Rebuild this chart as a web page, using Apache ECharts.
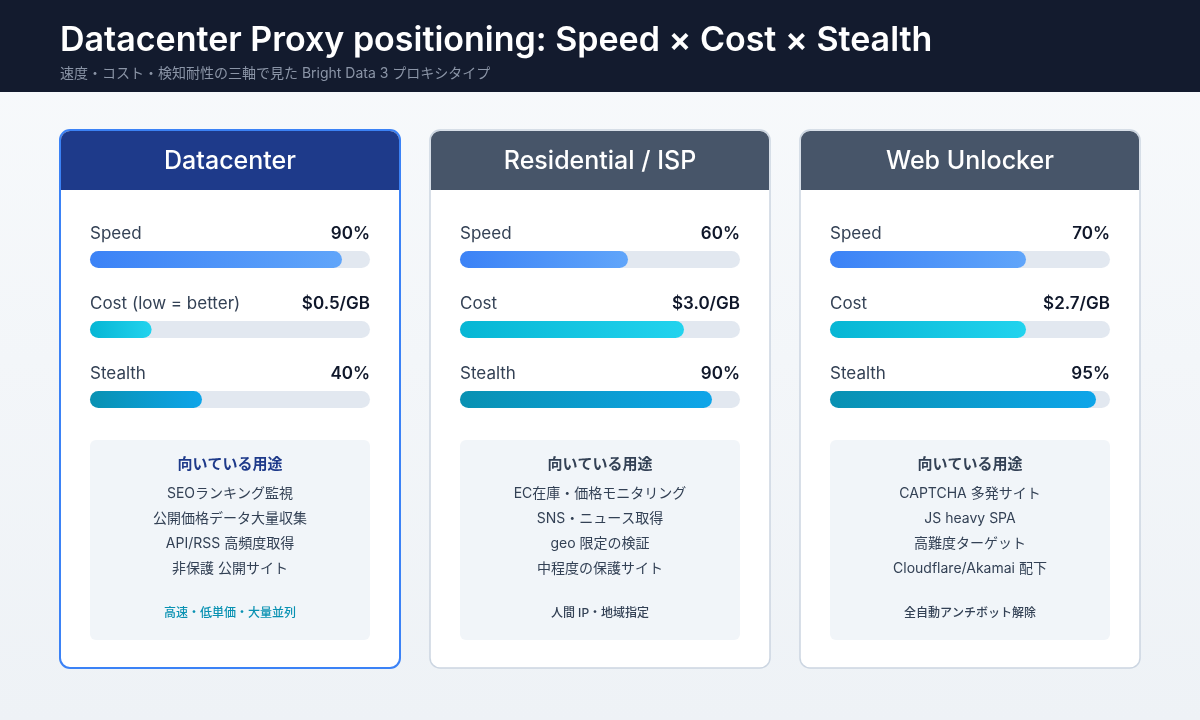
<!DOCTYPE html>
<html><head><meta charset="utf-8">
<script src="https://cdn.jsdelivr.net/npm/echarts@6/dist/echarts.min.js"></script>
<style>html,body{margin:0;padding:0;}#c{width:1200px;height:720px;}</style>
</head><body><div id="c"></div>
<script>
// data
var cards = ['Datacenter', 'Residential / ISP', 'Web Unlocker'];
var metrics = ['Speed', 'Cost', 'Stealth'];
var costLabels = ['Cost (low = better)', 'Cost', 'Cost'];
var speed = [90, 60, 70];
var costPerGB = [0.5, 3.0, 2.7];
var costBar = [22, 80, 70];   // bar length (% of track)
var stealth = [40, 90, 95];
var useTitle = '向いている用途';
var uses = [
  ['SEOランキング監視', '公開価格データ大量収集', 'API/RSS 高頻度取得', '非保護 公開サイト'],
  ['EC在庫・価格モニタリング', 'SNS・ニュース取得', 'geo 限定の検証', '中程度の保護サイト'],
  ['CAPTCHA 多発サイト', 'JS heavy SPA', '高難度ターゲット', 'Cloudflare/Akamai 配下']
];
var footers = ['高速・低単価・大量並列', '人間 IP・地域指定', '全自動アンチボット解除'];

var FONT = 'Inter, "Noto Sans CJK JP", sans-serif';
var chart = echarts.init(document.getElementById('c'));
var cardX = [60, 430, 800];
var rowY = [234, 304, 374];
var grad = [
  ['#3b82f6', '#60a5fa'],
  ['#06b6d4', '#22d3ee'],
  ['#0891b2', '#0ea5e9']
];

var graphic = [
  {type: 'rect', shape: {x: 0, y: 0, width: 1200, height: 720}, style: {fill: new echarts.graphic.LinearGradient(0, 0, 0, 1, [{offset: 0, color: '#f8fafc'}, {offset: 1, color: '#eef2f6'}])}, z: -10},
  {type: 'rect', shape: {x: 0, y: 0, width: 1200, height: 92}, style: {fill: '#131b2e'}},
  {type: 'text', left: 60, top: 24, style: {text: 'Datacenter Proxy positioning: Speed × Cost × Stealth', fill: '#fff', font: '600 34px ' + FONT}},
  {type: 'text', left: 60, top: 67, style: {text: '速度・コスト・検知耐性の三軸で見た Bright Data 3 プロキシタイプ', fill: '#8b95a7', font: '14px ' + FONT}}
];
var grids = [], xAxes = [], yAxes = [], series = [];

cards.forEach(function (name, i) {
  var x = cardX[i], hi = i === 0;
  graphic.push(
    {type: 'rect', shape: {x: x, y: 130, width: 340, height: 538, r: 10}, style: {fill: '#fff', stroke: hi ? '#3b82f6' : '#cbd5e1', lineWidth: hi ? 2 : 1.5}},
    {type: 'rect', shape: {x: x + 1, y: 131, width: 338, height: 59, r: [9, 9, 0, 0]}, style: {fill: hi ? '#1e3a8a' : '#475569'}},
    {type: 'text', x: x + 170, y: 161, style: {text: name, fill: '#fff', font: '500 25px ' + FONT, align: 'center', verticalAlign: 'middle'}},
    {type: 'rect', shape: {x: x + 30, y: 440, width: 280, height: 200, r: 6}, style: {fill: '#f1f5f9'}},
    {type: 'text', x: x + 170, y: 464, style: {text: useTitle, fill: hi ? '#1e3a8a' : '#334155', font: 'bold 15px ' + FONT, align: 'center', verticalAlign: 'middle'}},
    {type: 'text', x: x + 170, y: 613, style: {text: footers[i], fill: hi ? '#0891b2' : '#334155', font: '500 12px ' + FONT, align: 'center', verticalAlign: 'middle'}}
  );
  uses[i].forEach(function (u, k) {
    graphic.push({type: 'text', x: x + 170, y: 494 + k * 25, style: {text: u, fill: '#334155', font: '14px ' + FONT, align: 'center', verticalAlign: 'middle'}});
  });
  var vals = [speed[i], costBar[i], stealth[i]];
  var valText = [speed[i] + '%', '$' + costPerGB[i].toFixed(1) + '/GB', stealth[i] + '%'];
  var labs = ['Speed', costLabels[i], 'Stealth'];
  for (var m = 0; m < 3; m++) {
    graphic.push(
      {type: 'text', x: x + 30, y: rowY[m], style: {text: labs[m], fill: '#334155', font: '17px ' + FONT, verticalAlign: 'middle'}},
      {type: 'text', x: x + 310, y: rowY[m], style: {text: valText[m], fill: '#0f172a', font: '600 17px ' + FONT, align: 'right', verticalAlign: 'middle'}}
    );
    var gi = grids.length;
    grids.push({left: x + 30, top: rowY[m] + 17, width: 280, height: 17});
    xAxes.push({gridIndex: gi, type: 'value', min: 0, max: 100, show: false});
    yAxes.push({gridIndex: gi, type: 'category', data: [metrics[m]], show: false});
    series.push({
      type: 'bar', xAxisIndex: gi, yAxisIndex: gi, data: [vals[m]], barWidth: 17,
      showBackground: true, backgroundStyle: {color: '#e2e8f0', borderRadius: 9},
      itemStyle: {borderRadius: 9, color: new echarts.graphic.LinearGradient(0, 0, 1, 0, [{offset: 0, color: grad[m][0]}, {offset: 1, color: grad[m][1]}])},
      silent: true, animation: false
    });
  }
});

chart.setOption({
  animation: false,
  grid: grids, xAxis: xAxes, yAxis: yAxes, series: series,
  graphic: graphic
});
</script></body></html>
